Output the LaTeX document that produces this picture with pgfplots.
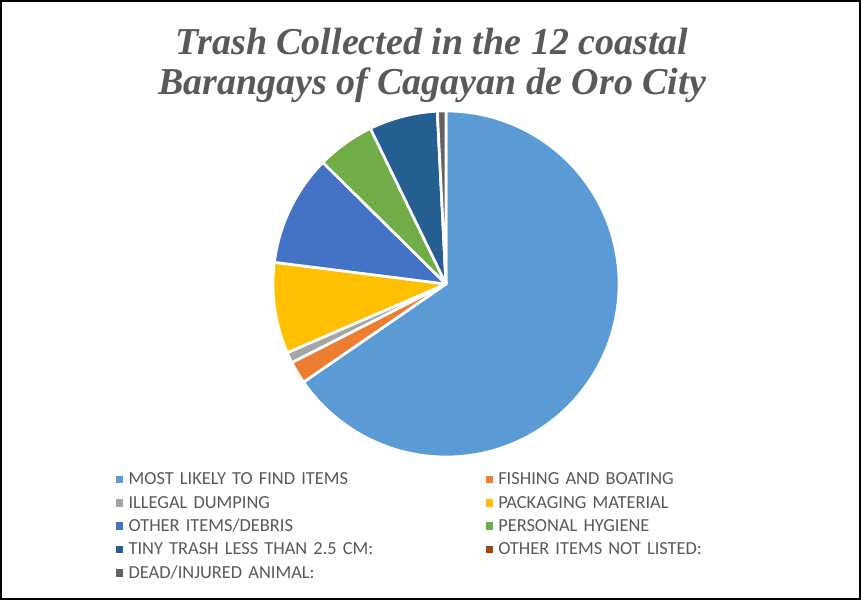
\documentclass[border=0pt]{standalone}
\usepackage{pgfplots}
\usepackage{pgfplotstable}
\pgfplotsset{compat=1.18}
\usepackage{fontspec}
\setmainfont{Carlito}
\newfontfamily\titlefont{Liberation Serif}

\definecolor{c1}{HTML}{5B9BD5}
\definecolor{c2}{HTML}{ED7D31}
\definecolor{c3}{HTML}{A5A5A5}
\definecolor{c4}{HTML}{FFC000}
\definecolor{c5}{HTML}{4472C4}
\definecolor{c6}{HTML}{70AD47}
\definecolor{c7}{HTML}{255E91}
\definecolor{c8}{HTML}{9E480E}
\definecolor{c9}{HTML}{636363}
\definecolor{txt}{HTML}{595959}

% share of each category, percent
\pgfplotstableread{
value color
65.4 c1
2.1 c2
1.0 c3
8.5 c4
10.4 c5
5.4 c6
6.4 c7
0.0 c8
0.8 c9
}\piedata

\begin{document}
\begin{tikzpicture}
\begin{axis}[
    scale only axis,
    width=645.75pt, height=450pt,
    xmin=0, xmax=861, ymin=0, ymax=600,
    hide axis, clip=false,
    legend columns=2,
    legend image code/.code={\fill[#1] (0pt,-2.5pt) rectangle (4.6pt,2.5pt);},
    legend style={
        at={(axis cs:112,134)}, anchor=north west,
        draw=none, fill=none,
        font=\fontsize{13.8}{15}\selectfont\color{txt},
        row sep=2.0pt,
        cells={anchor=west, text width=266pt, inner sep=0pt, text height=10pt, text depth=3pt},
        /tikz/every odd column/.append style={column sep=2.25pt},
        /tikz/every even column/.append style={column sep=0pt},
    },
]
\pgfplotstablegetrowsof{\piedata}
\pgfmathtruncatemacro\N{\pgfplotsretval-1}
\def\angA{90}
\pgfplotsforeachungrouped \i in {0,...,\N}{%
  \pgfplotstablegetelem{\i}{value}\of\piedata
  \pgfmathsetmacro\angB{\angA - 3.6*\pgfplotsretval}%
  \pgfplotstablegetelem{\i}{color}\of\piedata
  \edef\temp{\noexpand\fill[\pgfplotsretval, draw=white, line width=2pt, line join=round]
    (axis cs:446,316) -- ++(\angA:129.75pt)
    arc[start angle=\angA, end angle=\angB, radius=129.75pt] -- cycle;}%
  \temp
  \global\let\angA\angB
}

\addlegendimage{c1}\addlegendentry{MOST LIKELY TO FIND ITEMS}
\addlegendimage{c2}\addlegendentry{FISHING AND BOATING}
\addlegendimage{c3}\addlegendentry{ILLEGAL DUMPING}
\addlegendimage{c4}\addlegendentry{PACKAGING MATERIAL}
\addlegendimage{c5}\addlegendentry{OTHER ITEMS/DEBRIS}
\addlegendimage{c6}\addlegendentry{PERSONAL HYGIENE}
\addlegendimage{c7}\addlegendentry{TINY TRASH LESS THAN 2.5 CM:}
\addlegendimage{c8}\addlegendentry{OTHER ITEMS NOT LISTED:}
\addlegendimage{c9}\addlegendentry{DEAD/INJURED ANIMAL:}

\node[anchor=base, font=\titlefont\bfseries\itshape\fontsize{28.5}{28.5}\selectfont, text=txt]
  at (axis cs:432,545) {Trash Collected in the 12 coastal};
\node[anchor=base, font=\titlefont\bfseries\itshape\fontsize{28.5}{28.5}\selectfont, text=txt]
  at (axis cs:432,505) {Barangays of Cagayan de Oro City};

\draw[black, line width=1.5pt] (axis cs:1,1) rectangle (axis cs:860,599);
\end{axis}
\end{tikzpicture}
\end{document}
